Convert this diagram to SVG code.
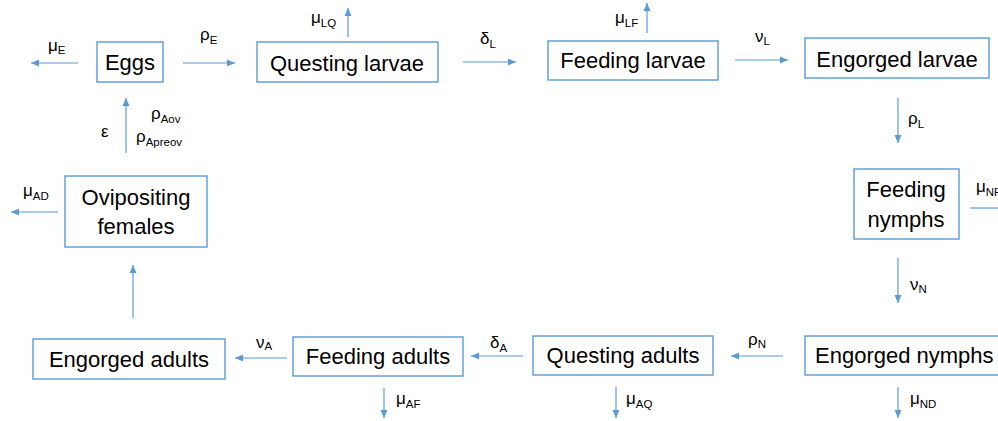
<svg xmlns="http://www.w3.org/2000/svg" width="998" height="421" viewBox="0 0 998 421">
<defs>
<marker id="ah" markerUnits="userSpaceOnUse" markerWidth="9" markerHeight="8" refX="8" refY="4" orient="auto">
<path d="M0,0.5 L8,4 L0,7.5 Z" fill="#5B9BD5"/>
</marker>
<style>
.box{fill:#fff;stroke:#5B9BD5;stroke-width:1.4}
.lbl{font-family:"Liberation Sans",Arial,sans-serif;font-size:22px;fill:#000;text-anchor:middle}
.g{font-family:"Liberation Sans",Arial,sans-serif;font-size:17px;fill:#000}
.s{font-size:11.5px}
.c{stroke:#5B9BD5;stroke-width:1.2;fill:none;marker-end:url(#ah)}
</style>
</defs>
<rect width="998" height="421" fill="#fff"/>
<g id="eggs"><rect class="box" x="97" y="42" width="66" height="40"/><text class="lbl" x="130" y="70">Eggs</text></g>
<g id="questing-larvae"><rect class="box" x="257" y="42" width="181" height="40"/><text class="lbl" x="347" y="71">Questing larvae</text></g>
<g id="feeding-larvae"><rect class="box" x="548" y="41" width="170" height="39"/><text class="lbl" x="633" y="68">Feeding larvae</text></g>
<g id="engorged-larvae"><rect class="box" x="805" y="38" width="184" height="40"/><text class="lbl" x="897" y="67">Engorged larvae</text></g>
<g id="feeding-nymphs"><rect class="box" x="854" y="169" width="105" height="70"/><text class="lbl" x="906" y="197">Feeding</text><text class="lbl" x="906" y="227">nymphs</text></g>
<g id="engorged-nymphs"><rect class="box" x="805" y="336" width="200" height="39"/><text class="lbl" x="815" y="363" style="text-anchor:start">Engorged nymphs</text></g>
<g id="questing-adults"><rect class="box" x="533" y="336" width="180" height="39"/><text class="lbl" x="623" y="363">Questing adults</text></g>
<g id="feeding-adults"><rect class="box" x="293" y="337" width="170" height="39"/><text class="lbl" x="378" y="364">Feeding adults</text></g>
<g id="engorged-adults"><rect class="box" x="33" y="339" width="192" height="40"/><text class="lbl" x="129" y="367">Engorged adults</text></g>
<g id="ovipositing-females"><rect class="box" x="65" y="176" width="142" height="71"/><text class="lbl" x="136" y="205">Ovipositing</text><text class="lbl" x="136" y="234">females</text></g>
<g id="connectors">
<line class="c" x1="78" y1="63" x2="31" y2="63"/>
<line class="c" x1="183" y1="63" x2="235" y2="63"/>
<line class="c" x1="348" y1="37" x2="348" y2="8"/>
<line class="c" x1="463" y1="62" x2="516" y2="62"/>
<line class="c" x1="647" y1="33" x2="647" y2="3"/>
<line class="c" x1="735" y1="60" x2="788" y2="60"/>
<line class="c" x1="898" y1="98" x2="898" y2="143"/>
<line x1="970" y1="208" x2="998" y2="208" style="stroke:#5B9BD5;stroke-width:1.2"/>
<line class="c" x1="898" y1="258" x2="898" y2="303"/>
<line class="c" x1="898" y1="387" x2="898" y2="418"/>
<line class="c" x1="783" y1="356" x2="731" y2="356"/>
<line class="c" x1="616" y1="387" x2="616" y2="418"/>
<line class="c" x1="523" y1="356" x2="471" y2="356"/>
<line class="c" x1="384" y1="388" x2="384" y2="418"/>
<line class="c" x1="287" y1="358" x2="235" y2="358"/>
<line class="c" x1="133" y1="318" x2="133" y2="265"/>
<line class="c" x1="58" y1="212" x2="11" y2="212"/>
<line class="c" x1="126" y1="153" x2="126" y2="98"/>
</g>
<g id="labels">
<text class="g" x="48" y="51">μ<tspan class="s" dy="3">E</tspan></text>
<text class="g" x="200" y="40">ρ<tspan class="s" dy="4">E</tspan></text>
<text class="g" x="311" y="23">μ<tspan class="s" dy="4">LQ</tspan></text>
<text class="g" x="480" y="44">δ<tspan class="s" dy="4">L</tspan></text>
<text class="g" x="615" y="23">μ<tspan class="s" dy="4">LF</tspan></text>
<text class="g" x="755" y="42">ν<tspan class="s" dy="3">L</tspan></text>
<text class="g" x="908" y="124">ρ<tspan class="s" dy="4">L</tspan></text>
<text class="g" x="976" y="192">μ<tspan class="s" dy="4">NF</tspan></text>
<text class="g" x="910" y="290">ν<tspan class="s" dy="3">N</tspan></text>
<text class="g" x="910" y="404">μ<tspan class="s" dy="4">ND</tspan></text>
<text class="g" x="748" y="345">ρ<tspan class="s" dy="3">N</tspan></text>
<text class="g" x="626" y="404">μ<tspan class="s" dy="4">AQ</tspan></text>
<text class="g" x="490" y="348">δ<tspan class="s" dy="4">A</tspan></text>
<text class="g" x="256" y="348">ν<tspan class="s" dy="2">A</tspan></text>
<text class="g" x="396" y="404">μ<tspan class="s" dy="4">AF</tspan></text>
<text class="g" x="23" y="196">μ<tspan class="s" dy="4">AD</tspan></text>
<text class="g" x="101" y="137">ε</text>
<text class="g" x="151" y="119">ρ<tspan class="s" dy="4">Aov</tspan></text>
<text class="g" x="136" y="142">ρ<tspan class="s" dy="4">Apreov</tspan></text>
</g>
</svg>
